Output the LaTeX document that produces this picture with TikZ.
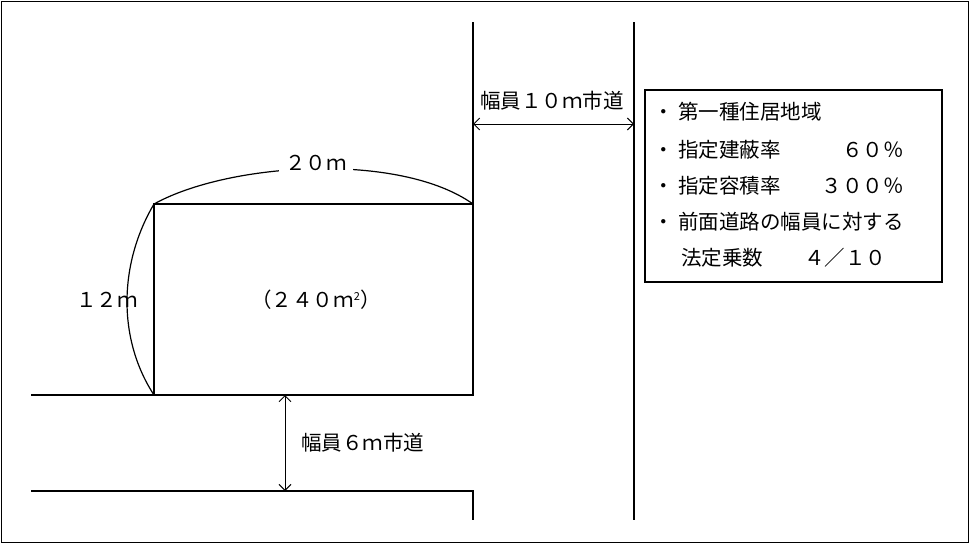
\documentclass[tikz,border=0pt]{standalone}
\usepackage{fontspec}
\setmainfont{Noto Sans CJK JP}
\usetikzlibrary{arrows.meta}
\tikzset{
  lbl/.style={inner sep=1pt,font=\fontsize{20.5}{22}\selectfont},
  dim/.style={line width=1pt,{Straight Barb[length=6pt]}-{Straight Barb[length=6pt]}},
  line/.style={line width=1.2pt}
}
\begin{document}
\begin{tikzpicture}[x=1pt,y=-1pt]
  \useasboundingbox (0,0) rectangle (970,544);
  \draw (1,1) rectangle (968,542);
  % lot
  \draw[line] (154,204) rectangle (473,395);
  \draw[line] (473,22) -- (473,204);
  \draw[line] (31,395) -- (154,395);
  \draw[line] (31,491) -- (473,491) -- (473,520);
  \draw[line] (634,22) -- (634,520);
  % dimensions
  \coordinate (r1) at (473,124);
  \coordinate (r2) at (634,124);
  \draw[dim] (r1) -- (r2);
  \node[lbl] (wide) at (552,101) {幅員１０ｍ市道};
  \coordinate (s1) at (285,395);
  \coordinate (s2) at (285,491);
  \draw[dim] (s1) -- (s2);
  \node[lbl,anchor=west] (narrow) at (300,443) {幅員６ｍ市道};
  \draw[line] (154,204) .. controls (230,162) and (400,152) .. (473,204);
  \node[lbl,fill=white,inner xsep=6pt] (w20) at (316,163) {２０ｍ};
  \draw[line] (154,204) .. controls (118,265) and (118,340) .. (154,395);
  \node[lbl] (d12) at (107,300) {１２ｍ};
  \node[lbl] (area) at (316,300) {（２４０ｍ\raisebox{0.7ex}{\fontsize{11}{12}\selectfont 2}）};
  % conditions
  \draw[line] (645,90) rectangle (942,282);
  \node[lbl,anchor=west] (c1) at (652,112) {・ 第一種住居地域};
  \node[lbl,anchor=west] (c2) at (652,150) {・ 指定建蔽率　　　６０％};
  \node[lbl,anchor=west] (c3) at (652,186) {・ 指定容積率　　３００％};
  \node[lbl,anchor=west] (c4) at (652,222) {・ 前面道路の幅員に対する};
  \node[lbl,anchor=west] (c5) at (680,258) {法定乗数　　４／１０};
\end{tikzpicture}
\end{document}
